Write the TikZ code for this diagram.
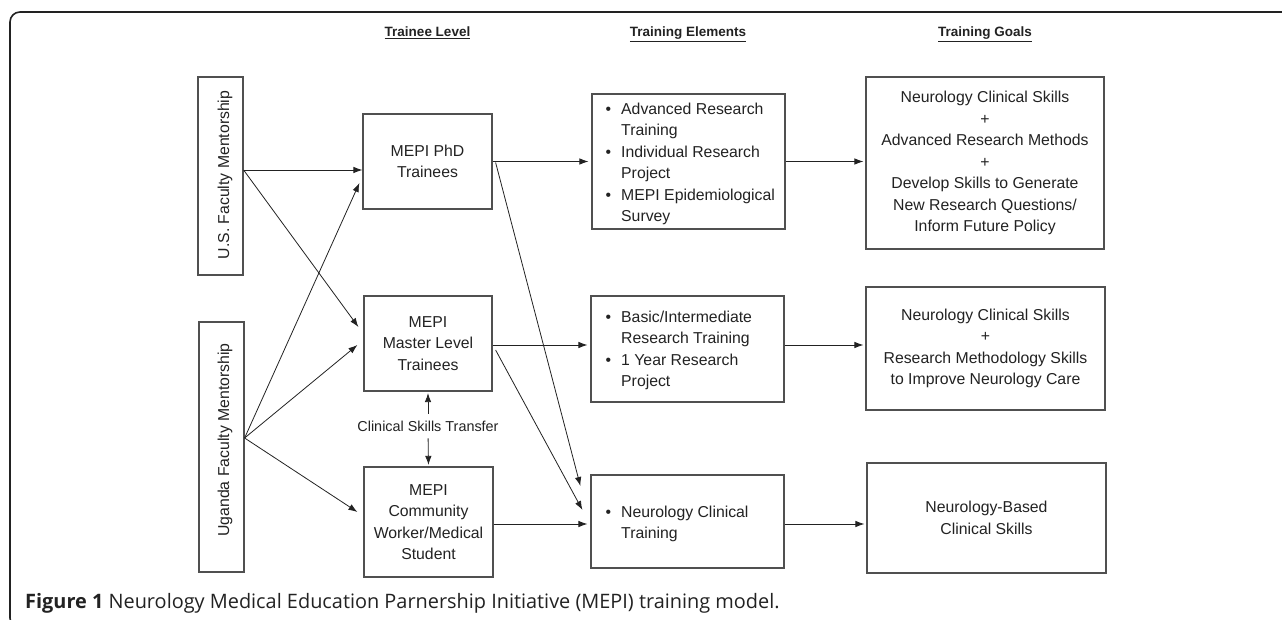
\documentclass[tikz,border=0pt]{standalone}
\usepackage{fontspec}
\setmainfont{Liberation Sans}
\newfontfamily\capfont{Open Sans}
\usetikzlibrary{arrows.meta,calc}
\definecolor{ink}{HTML}{222222}
\definecolor{boxc}{HTML}{505050}
\newcommand\bul{\llap{\textbullet\hspace{10pt}}}
\begin{document}
\begin{tikzpicture}[x=1pt,y=-1pt,
  box/.style={draw=boxc, line width=1.2pt, inner sep=0pt, text=ink,
    font=\fontsize{15.8}{21.5}\selectfont, align=center},
  txt/.style={inner sep=0pt, text=ink, font=\fontsize{15.8}{21.5}\selectfont, align=left},
  arr/.style={draw=ink, line width=0.8pt, -{Latex[length=9pt,width=6.5pt]}},
  hdr/.style={font=\fontsize{13.5}{16}\selectfont\bfseries, text=ink, inner sep=0pt, anchor=base}]

\useasboundingbox (0,0) rectangle (1282,620);
\draw[draw=ink, line width=1.6pt, rounded corners=10pt] (1290,12) -- (10,12) -- (10,628) -- (60,628);

% headers
\node[hdr] (h1) at (427.5,37) {\underline{Trainee Level}};
\node[hdr] (h2) at (688,37) {\underline{Training Elements}};
\node[hdr] (h3) at (985,37) {\underline{Training Goals}};

% mentorship boxes
\node[box, minimum width=45pt, minimum height=198pt] (us) at (220.5,176) {};
\node[txt, rotate=90, align=center] (ust) at (225,175) {U.S. Faculty Mentorship};
\node[box, minimum width=45pt, minimum height=250pt] (ug) at (221.5,447) {};
\node[txt, rotate=90, align=center] (ugt) at (225,440) {Uganda Faculty Mentorship};

% trainee level
\node[box, minimum width=129pt, minimum height=95pt] (phd) at (427.5,161.5) {MEPI PhD\\Trainees};
\node[box, minimum width=128pt, minimum height=95pt] (master) at (428,343.5) {MEPI\\Master Level\\Trainees};
\node[box, minimum width=129pt, minimum height=110pt] (comm) at (428.5,522) {MEPI\\Community\\Worker/Medical\\Student};
\node[txt, font=\fontsize{14.4}{16}\selectfont] (cst) at (428,426) {Clinical Skills Transfer};

% training elements
\node[box, minimum width=193pt, minimum height=135pt] (te1) at (688.5,161.5) {};
\node[txt, anchor=west] (te1t) at (621,164) {\bul Advanced Research\\Training\\\bul Individual Research\\Project\\\bul MEPI Epidemiological\\Survey};
\node[box, minimum width=193pt, minimum height=106pt] (te2) at (687.5,349) {};
\node[txt, anchor=west] (te2t) at (621,350.5) {\bul Basic/Intermediate\\Research Training\\\bul 1 Year Research\\Project};
\node[box, minimum width=193pt, minimum height=93pt] (te3) at (687.5,521.5) {};
\node[txt, anchor=west] (te3t) at (621,524) {\bul Neurology Clinical\\Training};

% training goals
\node[box, minimum width=238pt, minimum height=172pt] (tg1) at (985,163) {Neurology Clinical Skills\\+\\Advanced Research Methods\\+\\Develop Skills to Generate\\New Research Questions/\\Inform Future Policy};
\node[box, minimum width=239pt, minimum height=123pt] (tg2) at (985.5,348.5) {Neurology Clinical Skills\\+\\Research Methodology Skills\\to Improve Neurology Care};
\node[box, minimum width=239pt, minimum height=110pt] (tg3) at (986.5,518) {Neurology-Based\\Clinical Skills};

% arrows from mentorship
\coordinate (usout) at ($(us.east)+(0,-6)$);
\coordinate (ugout) at ($(ug.east)+(0,-9)$);
\draw[arr] (usout) -- (usout -| phd.west);
\draw[arr] (usout) -- ($(master.west)+(-5,-16.5)$);
\draw[arr] (ugout) -- ($(phd.west)+(-3,21.5)$);
\draw[arr] (ugout) -- ($(master.west)+(-6,1.5)$);
\draw[arr] (ugout) -- ($(comm.west)+(-6,-10)$);

% clinical skills transfer
\draw[arr, shorten <=7pt, shorten >=1.5pt] (cst.north) -- (master.south);
\draw[arr, shorten <=7pt, shorten >=1.5pt] (cst.south) -- (comm.north);

% trainee -> elements
\draw[arr, shorten >=3pt] (phd.east) -- (phd.east -| te1.west);
\draw[arr] ($(phd.east)+(3,1)$) -- ($(te3.west)+(-10,-35.5)$);
\draw[arr, shorten >=3pt] ($(master.east)+(0,1.5)$) coordinate (mo) -- (mo -| te2.west);
\draw[arr] ($(master.east)+(3,6.5)$) -- ($(te3.west)+(-8,-11.5)$);
\draw[arr, shorten >=3pt] ($(comm.east)+(0,2)$) coordinate (co) -- (co -| te3.west);

% elements -> goals
\draw[arr, shorten >=2pt] (te1.east) -- (te1.east -| tg1.west);
\draw[arr, shorten >=2pt] ($(te2.east)+(0,-4)$) coordinate (t2o) -- (t2o -| tg2.west);
\draw[arr, shorten >=2pt] ($(te3.east)+(0,2.5)$) coordinate (t3o) -- (t3o -| tg3.west);

% caption
\node[anchor=base west, inner sep=0pt, text=ink, font=\capfont\fontsize{19.9}{22}\selectfont] (cap) at (25,608)
  {\textbf{Figure 1} Neurology Medical Education Parnership Initiative (MEPI) training model.};
\end{tikzpicture}
\end{document}
